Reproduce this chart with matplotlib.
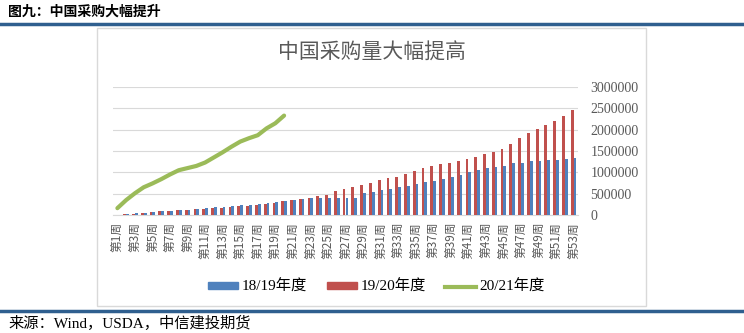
import matplotlib
matplotlib.use('agg')
import matplotlib.pyplot as plt
import numpy as np
from matplotlib.patches import Rectangle, Patch
from matplotlib.lines import Line2D

plt.rcParams['font.family'] = ['Noto Sans CJK SC', 'DejaVu Sans']

# 数据
weeks = ['第%d周' % i for i in range(1, 54)]
s1819 = [10000, 30000, 50000, 55000, 70000, 90000, 105000, 110000, 120000, 145000,
         170000, 185000, 195000, 215000, 225000, 235000, 260000, 275000, 300000, 330000,
         350000, 375000, 400000, 400000, 400000, 400000, 400000, 400000, 520000, 540000,
         585000, 610000, 655000, 685000, 725000, 778000, 805000, 845000, 885000, 935000,
         1000000, 1050000, 1090000, 1130000, 1160000, 1210000, 1230000, 1255000, 1265000, 1280000,
         1300000, 1310000, 1335000]
s1920 = [5000, 12000, 25000, 50000, 65000, 90000, 105000, 110000, 120000, 140000,
         150000, 158000, 170000, 190000, 210000, 220000, 232000, 256000, 288000, 330000,
         340000, 380000, 410000, 445000, 480000, 560000, 605000, 660000, 705000, 740000,
         810000, 870000, 895000, 960000, 1030000, 1095000, 1145000, 1190000, 1215000, 1265000,
         1305000, 1365000, 1425000, 1470000, 1555000, 1675000, 1815000, 1925000, 2025000, 2120000,
         2205000, 2310000, 2450000]
s2021 = [160000, 350000, 510000, 650000, 740000, 840000, 950000, 1050000, 1100000, 1150000,
         1230000, 1350000, 1470000, 1600000, 1720000, 1800000, 1870000, 2030000, 2150000, 2330000]
yticks = [0, 500000, 1000000, 1500000, 2000000, 2500000, 3000000]

blue = '#4F81BD'
red = '#C0504D'
green = '#9BBB59'
gray = '#595959'
num_font = ['Liberation Serif', 'Noto Sans CJK SC']

W, H = 744, 333
fig = plt.figure(figsize=(W / 100, H / 100), dpi=100)

# 顶部标题和蓝线
fig.text(8 / W, 1 - 12 / H, '图九：中国采购大幅提升', fontsize=10, fontweight='bold',
         va='center', ha='left', color='black')
fig.add_artist(Line2D([0, 1], [1 - 23.5 / H, 1 - 23.5 / H], color='#2F5F8F', lw=2.5))
fig.add_artist(Line2D([0, 1], [1 - 311 / H, 1 - 311 / H], color='#2F5F8F', lw=2.5))
fig.text(8 / W, 1 - 323 / H, '来源：Wind，USDA，中信建投期货', fontsize=11,
         va='center', ha='left', color='black', family=num_font)

# 图表外框
fig.add_artist(Rectangle((97 / W, 1 - 306 / H), (646 - 97) / W, (306 - 28) / H,
                         transform=fig.transFigure, fill=False, edgecolor='#D9D9D9', lw=1))

ax = fig.add_axes([113 / W, 1 - 215 / H, 465 / W, 128 / H])
x = np.arange(len(weeks))
bw = 0.32
ax.bar(x + 0.16, s1819, width=bw, color=blue, zorder=3)
ax.bar(x - 0.16, s1920, width=bw, color=red, zorder=3)
ax.plot(x[:len(s2021)], s2021, color=green, lw=3, zorder=4, solid_capstyle='round')

ax.set_xlim(-0.5, len(weeks) - 0.5)
ax.set_ylim(0, 3000000)
ax.yaxis.tick_right()
ax.set_yticks(yticks)
ax.set_yticklabels([str(v) for v in yticks], family=num_font, fontsize=10, color=gray)
ax.set_xticks(x[::2])
ax.set_xticklabels(weeks[::2], rotation=90, fontsize=8.5, color=gray)
ax.tick_params(length=0, pad=5)
ax.tick_params(axis='y', pad=9)
ax.grid(axis='y', color='#D9D9D9', lw=0.8, zorder=0)
for sp in ['top', 'left', 'right']:
    ax.spines[sp].set_visible(False)
ax.spines['bottom'].set_color('#D9D9D9')

fig.text(372 / W, 1 - 53 / H, '中国采购量大幅提高', fontsize=15, color=gray,
         ha='center', va='center')

handles = [Patch(color=blue), Patch(color=red), Line2D([], [], color=green, lw=3)]
fig.legend(handles, ['18/19年度', '19/20年度', '20/21年度'], ncol=3, frameon=False,
           loc='center', bbox_to_anchor=(376 / W, 1 - 287 / H), prop={'family': num_font, 'size': 11},
           handlelength=2.0, handleheight=0.35, columnspacing=1.3, handletextpad=0.2)

fig.savefig('out.png', dpi=100, facecolor='white')
